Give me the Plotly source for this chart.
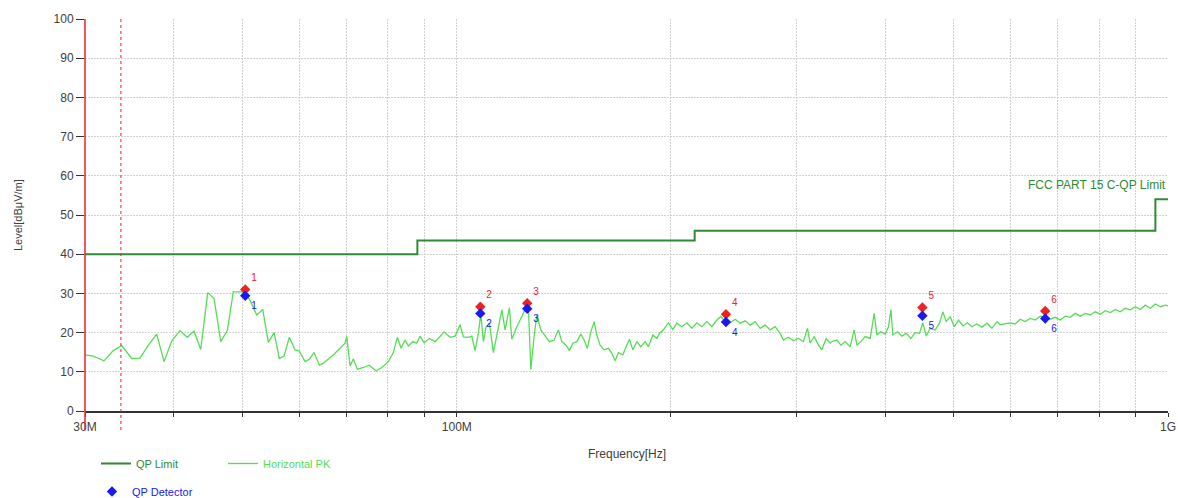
import math
import plotly.graph_objects as go

# ---------------- data ----------------
# Horizontal PK sweep (frequency in MHz, level in dBuV/m)
pk_freq_mhz = [
    30.00, 30.82, 31.90, 32.88, 33.79, 34.90, 35.85, 36.83, 37.84, 38.75,
    39.73, 40.81, 41.78, 42.70, 43.64, 44.64, 45.56, 46.56, 47.56, 48.49,
    49.56, 50.37, 51.30, 52.31, 53.34, 54.32, 55.33, 56.29, 57.15, 58.14,
    59.22, 60.05, 61.17, 62.03, 62.98, 64.07, 64.90, 66.18, 67.19, 68.51,
    69.63, 70.01, 70.77, 71.53, 72.46, 73.88, 75.33, 76.99, 78.42, 80.11,
    81.42, 82.48, 83.48, 84.56, 85.47, 86.70, 87.83, 88.77, 89.93, 91.49,
    93.20, 94.72, 95.95, 97.84, 99.43, 101.05, 102.14, 103.81, 104.95, 106.08,
    107.22, 108.06, 108.98, 109.93, 111.11, 112.56, 114.03, 115.67, 116.91, 118.55,
    119.47, 121.43, 123.41, 124.73, 126.07, 127.06, 128.42, 129.55, 131.24, 133.08,
    134.94, 137.02, 138.94, 140.48, 142.44, 143.98, 145.57, 147.47, 149.39, 151.00,
    152.62, 154.31, 155.97, 157.33, 159.02, 161.10, 163.36, 165.17, 166.94, 168.74,
    171.15, 172.99, 174.86, 176.79, 179.10, 181.43, 183.98, 185.95, 188.62, 191.07,
    192.70, 195.20, 198.39, 201.25, 203.86, 207.19, 210.58, 214.01, 217.51, 221.06,
    224.67, 228.34, 232.07, 235.09, 238.38, 242.27, 246.23, 250.25, 254.33, 258.49,
    262.71, 267.00, 271.36, 275.79, 280.30, 284.87, 287.91, 292.61, 297.39, 302.24,
    307.18, 311.20, 313.92, 318.03, 322.48, 326.05, 330.61, 334.94, 336.79, 342.25,
    346.73, 351.62, 357.36, 362.00, 365.20, 369.94, 375.12, 381.25, 386.24, 389.61,
    394.71, 400.23, 404.54, 407.71, 410.33, 416.49, 422.49, 428.40, 434.97, 441.10,
    447.27, 452.22, 457.09, 463.02, 470.58, 477.17, 482.50, 487.64, 494.02, 500.48,
    507.49, 514.80, 522.53, 530.00, 538.66, 547.46, 556.40, 565.48, 574.72, 580.85,
    590.34, 599.98, 609.78, 619.73, 629.86, 640.14, 650.60, 661.22, 672.02, 683.0,
    694.1, 705.5, 717.0, 728.7, 740.6, 752.7, 765.0, 777.5, 790.2, 803.1,
    816.2, 829.5, 843.1, 856.8, 870.8, 885.1, 899.5, 914.2, 929.1, 944.3,
    959.7, 975.4, 991.3, 1000.0,
]
pk_level = [
    14.3, 14.0, 12.8, 15.4, 16.7, 13.4, 13.5, 16.8, 19.6, 12.6,
    17.9, 20.5, 18.8, 20.4, 15.7, 30.2, 28.7, 17.7, 20.5, 30.4,
    30.4, 30.4, 27.9, 24.5, 25.9, 17.5, 20.0, 13.4, 14.0, 18.8,
    15.6, 15.3, 12.6, 13.2, 14.9, 11.7, 12.2, 13.4, 14.5, 16.0,
    17.3, 19.0, 11.5, 13.3, 10.6, 11.1, 11.7, 10.2, 11.1, 12.6,
    14.9, 18.8, 16.0, 18.1, 16.6, 17.7, 17.3, 19.1, 17.4, 18.5,
    17.7, 19.0, 20.2, 18.8, 19.1, 22.0, 18.9, 18.8, 19.1, 15.4,
    19.8, 24.7, 17.7, 21.5, 22.4, 14.9, 19.8, 25.8, 20.7, 26.4,
    18.3, 21.5, 24.1, 25.9, 26.6, 10.6, 19.0, 24.5, 20.7, 19.1,
    17.7, 18.1, 20.7, 17.7, 16.8, 15.4, 17.3, 17.7, 19.6, 18.1,
    16.0, 20.2, 22.8, 19.4, 16.8, 15.6, 16.0, 14.7, 12.8, 14.9,
    14.3, 16.4, 18.3, 15.6, 17.7, 16.4, 17.7, 16.4, 19.4, 18.5,
    19.8, 20.7, 22.5, 20.8, 22.4, 21.5, 22.5, 21.1, 22.5, 21.5,
    22.8, 21.5, 23.2, 24.1, 22.8, 22.5, 23.4, 22.4, 23.0, 21.9,
    22.8, 21.1, 21.9, 20.7, 21.5, 19.8, 18.1, 18.8, 17.9, 18.5,
    17.7, 21.1, 17.3, 19.0, 16.8, 15.6, 18.5, 17.3, 17.7, 18.1,
    16.8, 17.7, 16.4, 20.7, 16.8, 17.7, 19.0, 18.5, 24.9, 19.4,
    20.2, 19.6, 21.5, 25.9, 19.4, 20.2, 19.1, 19.8, 18.5, 20.0,
    19.8, 22.5, 19.1, 21.1, 20.7, 22.4, 25.3, 22.8, 24.1, 21.5,
    23.2, 21.7, 22.5, 21.5, 22.2, 21.4, 22.4, 21.1, 22.8, 22.0,
    22.2, 22.5, 22.2, 23.4, 22.8, 23.6, 23.2, 24.2, 23.9, 23.4,
    23.9, 23.2, 24.2, 23.9, 24.9, 24.2, 24.9, 24.5, 25.3, 24.7,
    25.6, 25.1, 25.9, 25.3, 26.2, 25.8, 26.6, 25.9, 27.0, 26.2,
    27.3, 26.6, 27.0, 26.8,
]

# FCC Part 15 C QP limit (step edges, MHz / dBuV/m)
limit_freq_mhz = [30, 88, 216, 960, 1000]
limit_level = [40.0, 43.5, 46.0, 54.0, 54.0]

# Final measurement markers
marker_labels = ["1", "2", "3", "4", "5", "6"]
marker_freq_mhz = [50.4, 107.9, 125.6, 239.0, 451.5, 672.0]
marker_pk_level = [31.0, 26.6, 27.5, 24.7, 26.4, 25.5]
marker_qp_level = [29.4, 24.9, 26.1, 22.7, 24.3, 23.6]

# Display lines (scan start / range marker), MHz
display_line_freq_mhz = [30.0, 33.7]

# Axis ticks
x_tick_mhz = [30, 40, 50, 60, 70, 80, 90, 100, 200, 300, 400, 500, 600, 700, 800, 900, 1000]
x_tick_text = ["30M", "", "", "", "", "", "", "100M", "", "", "", "", "", "", "", "", "1G"]
y_ticks = list(range(0, 101, 10))

# ---------------- styling ----------------
FONT = "Liberation Sans, Arial, sans-serif"
C_LIMIT = "#2e8b34"
C_PK = "#55dd55"
C_QP = "#1a1aee"
C_RED = "#ee2222"
C_TXT = "#404040"
C_GRID = "#d2d2d2"

FIG_W, FIG_H = 1178, 498
M_L, M_R, M_T, M_B = 85, 10, 19, 87
PLOT_W, PLOT_H = FIG_W - M_L - M_R, FIG_H - M_T - M_B

MHZ = 1e6
X_MIN_MHZ, X_MAX_MHZ = 30.0, 1000.0
LOG_MIN, LOG_MAX = math.log10(X_MIN_MHZ * MHZ), math.log10(X_MAX_MHZ * MHZ)


def x_to_paper(f_mhz):
    """Map a frequency through the log x scale to a paper fraction."""
    return (math.log10(f_mhz * MHZ) - LOG_MIN) / (LOG_MAX - LOG_MIN)


fig = go.Figure()

fig.add_trace(go.Scatter(
    x=[f * MHZ for f in limit_freq_mhz], y=limit_level, mode="lines",
    line=dict(color=C_LIMIT, width=2, shape="hv"),
    name="<span style='color:%s'>QP Limit</span>" % C_LIMIT, legend="legend",
))
fig.add_trace(go.Scatter(
    x=[f * MHZ for f in pk_freq_mhz], y=pk_level, mode="lines",
    line=dict(color=C_PK, width=1.3),
    name="<span style='color:%s'>Horizontal PK</span>" % C_PK, legend="legend",
))
fig.add_trace(go.Scatter(
    x=[f * MHZ for f in marker_freq_mhz], y=marker_pk_level, mode="markers+text",
    marker=dict(symbol="diamond", size=8, color=C_RED),
    text=marker_labels, textposition="top right",
    textfont=dict(family=FONT, size=10, color=C_RED),
    showlegend=False, cliponaxis=False,
))
fig.add_trace(go.Scatter(
    x=[f * MHZ for f in marker_freq_mhz], y=marker_qp_level, mode="markers+text",
    marker=dict(symbol="diamond", size=8, color=C_QP),
    text=marker_labels, textposition="bottom right",
    textfont=dict(family=FONT, size=10, color=C_QP),
    name="<span style='color:%s'>QP Detector</span>" % C_QP, legend="legend2",
    cliponaxis=False,
))

# display lines (drawn in paper space so they are not clipped at the plot edge)
for i, f in enumerate(display_line_freq_mhz):
    xp = x_to_paper(f)
    fig.add_shape(type="line", xref="paper", yref="paper", x0=xp, x1=xp,
                  y0=1, y1=-0.05,
                  line=dict(color=C_RED, width=1.5 if i == 0 else 1, dash="solid" if i == 0 else "dot"),
                  layer="above")
fig.add_trace(go.Scatter(
    x=[f * MHZ for f in display_line_freq_mhz], y=[-4.6] * len(display_line_freq_mhz),
    mode="markers", marker=dict(symbol="triangle-down", size=5, color=C_RED),
    showlegend=False, cliponaxis=False, hoverinfo="skip",
))

fig.add_annotation(
    text="FCC PART 15 C-QP Limit", xref="paper", x=1, xanchor="right",
    yref="y", y=57.7, yanchor="middle", showarrow=False,
    font=dict(family=FONT, size=12, color=C_LIMIT),
)
# axis titles
fig.add_annotation(
    text="Frequency[Hz]", xref="paper", x=0.5, xanchor="center",
    yref="paper", y=-43 / PLOT_H, yanchor="middle", showarrow=False,
    font=dict(family=FONT, size=12, color=C_TXT),
)
fig.add_annotation(
    text="Level[dBμV/m]", xref="paper", x=-67 / PLOT_W, xanchor="center",
    yref="paper", y=0.5, yanchor="middle", textangle=-90, showarrow=False,
    font=dict(family=FONT, size=11, color=C_TXT),
)

fig.update_layout(
    width=FIG_W, height=FIG_H,
    margin=dict(l=M_L, r=M_R, t=M_T, b=M_B, autoexpand=False),
    paper_bgcolor="white", plot_bgcolor="white",
    font=dict(family=FONT, size=12, color=C_TXT),
    xaxis=dict(
        type="log", range=[LOG_MIN, LOG_MAX], automargin=False,
        tickvals=[v * MHZ for v in x_tick_mhz], ticktext=x_tick_text,
        ticklabeloverflow="allow",
        showgrid=True, gridcolor=C_GRID, griddash="2px,1px", gridwidth=1,
        showline=True, linecolor="#333333", linewidth=1.5,
        ticks="outside", ticklen=4, tickcolor="#333333",
        tickfont=dict(family=FONT, size=12, color=C_TXT),
        zeroline=False,
    ),
    yaxis=dict(
        range=[0, 100], tickvals=y_ticks, automargin=False,
        showgrid=True, gridcolor=C_GRID, griddash="2px,1px", gridwidth=1,
        showline=False,
        ticks="outside", ticklen=8, tickcolor="#333333",
        tickfont=dict(family=FONT, size=12, color=C_TXT),
        zeroline=False,
    ),
    legend=dict(
        orientation="h", xref="container", yref="container",
        x=96 / FIG_W, y=1 - 449 / FIG_H, xanchor="left", yanchor="top",
        font=dict(family=FONT, size=11), bgcolor="rgba(0,0,0,0)",
        entrywidth=82, entrywidthmode="pixels", itemwidth=30,
    ),
    legend2=dict(
        orientation="h", xref="container", yref="container",
        x=92 / FIG_W, y=1 - 477 / FIG_H, xanchor="left", yanchor="top",
        font=dict(family=FONT, size=11), bgcolor="rgba(0,0,0,0)", itemwidth=30,
    ),
)

# remove the default page margin so the full-size figure fits the window exactly
fig.write_html(
    "out.html",
    config={"displayModeBar": False},
    post_script="document.body.style.margin='0';document.body.style.overflow='hidden';",
)
